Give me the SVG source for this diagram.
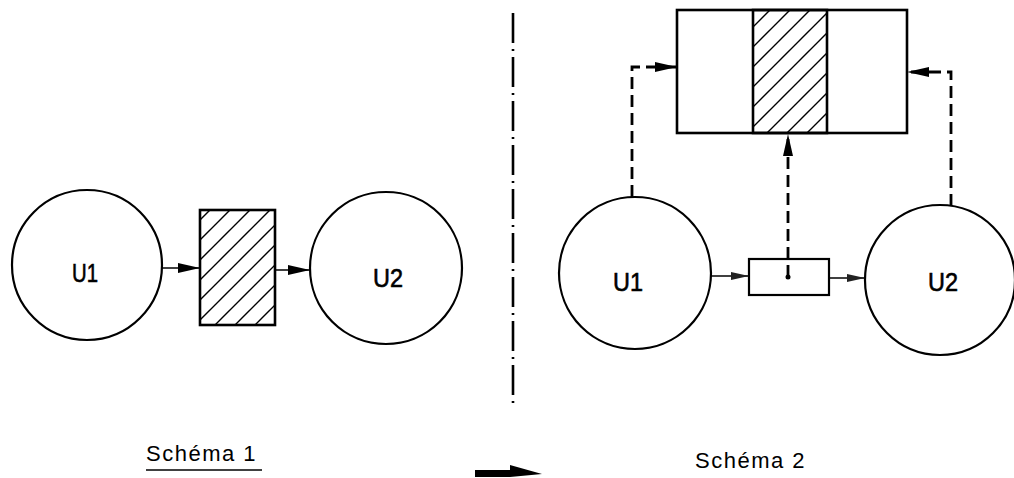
<svg xmlns="http://www.w3.org/2000/svg" width="1014" height="478" viewBox="0 0 1014 478">
<style>
.node{fill:none;stroke:#000;stroke-width:2.2}
.box{fill:none;stroke:#000;stroke-width:2.6}
.hatched{fill:url(#hatch);stroke:#000;stroke-width:2.6}
.lbl{font-family:"Liberation Sans",Arial,sans-serif;font-size:26px;fill:#000;stroke:#000;stroke-width:0.6}
.cap{font-family:"Liberation Sans",Arial,sans-serif;font-size:22px;letter-spacing:1.5px;fill:#000}
.solid{fill:none;stroke:#000;stroke-width:1.6}
.dash{fill:none;stroke:#000;stroke-width:2.8;stroke-dasharray:12 6}
.axis{fill:none;stroke:#000;stroke-width:2.6;stroke-dasharray:30 6 2 6}
</style>
<defs>
<pattern id="hatch" patternUnits="userSpaceOnUse" width="20" height="20">
<path d="M-5,5 L5,-5 M0,20 L20,0 M15,25 L25,15" stroke="#000" stroke-width="1.4" fill="none"/>
</pattern>
<marker id="ah" markerUnits="userSpaceOnUse" markerWidth="24" markerHeight="12" refX="22" refY="5" orient="auto">
<path d="M0,0 L22,5 L0,10 Z" fill="#000" stroke="none"/>
</marker>
<marker id="ahs" markerUnits="userSpaceOnUse" markerWidth="20" markerHeight="10" refX="18" refY="4" orient="auto">
<path d="M0,0 L18,4 L0,8 Z" fill="#222" stroke="none"/>
</marker>
</defs>

<g id="axis">
<line class="axis" x1="513" y1="13" x2="513" y2="407"/>
</g>

<!-- Schema 1 -->
<g id="s1-u1">
<circle class="node" cx="87" cy="265" r="75"/>
<text class="lbl" x="72" y="282" textLength="26" lengthAdjust="spacingAndGlyphs">U1</text>
</g>
<g id="s1-block">
<rect x="200" y="210" width="75" height="115" class="hatched"/>
</g>
<g id="s1-u2">
<circle class="node" cx="386" cy="268" r="76"/>
<text class="lbl" x="373" y="287" textLength="30" lengthAdjust="spacingAndGlyphs">U2</text>
</g>

<!-- Schema 2 -->
<g id="s2-store">
<rect x="677" y="10" width="230" height="123" class="box"/>
<rect x="753" y="10" width="74" height="123" class="hatched"/>
</g>
<g id="s2-u1">
<circle class="node" cx="635" cy="273" r="76"/>
<text class="lbl" x="613" y="291" textLength="30" lengthAdjust="spacingAndGlyphs">U1</text>
</g>
<g id="s2-valve">
<rect x="749" y="259" width="80" height="36" class="node" stroke-width="1.8"/>
<circle cx="788" cy="277" r="2.5" fill="#000"/>
</g>
<g id="s2-u2">
<circle class="node" cx="940" cy="280" r="75"/>
<text class="lbl" x="928" y="291" textLength="30" lengthAdjust="spacingAndGlyphs">U2</text>
</g>

<g id="connectors">
<line class="solid" x1="162" y1="268" x2="200" y2="268" marker-end="url(#ah)"/>
<line class="solid" x1="275" y1="270" x2="310" y2="270" marker-end="url(#ah)"/>
<line class="solid" x1="711" y1="276" x2="749" y2="276" marker-end="url(#ahs)"/>
<line class="solid" x1="829" y1="278" x2="865" y2="278" marker-end="url(#ahs)"/>
<path class="dash" d="M632,197 L632,67 L677,67" marker-end="url(#ah)"/>
<path class="dash" d="M951,206 L951,72 L907,72" marker-end="url(#ah)"/>
<path class="dash" d="M788,277 L788,134" marker-end="url(#ah)"/>
</g>

<g id="captions">
<text class="cap" x="146" y="461">Schéma 1</text>
<line x1="146" y1="470" x2="262" y2="470" stroke="#000" stroke-width="1.6"/>
<text class="cap" x="695" y="468">Schéma 2</text>
<path d="M475,470 L510,470 L510,465 L542,474 L510,477 L475,477 Z" fill="#000"/>
</g>
</svg>
